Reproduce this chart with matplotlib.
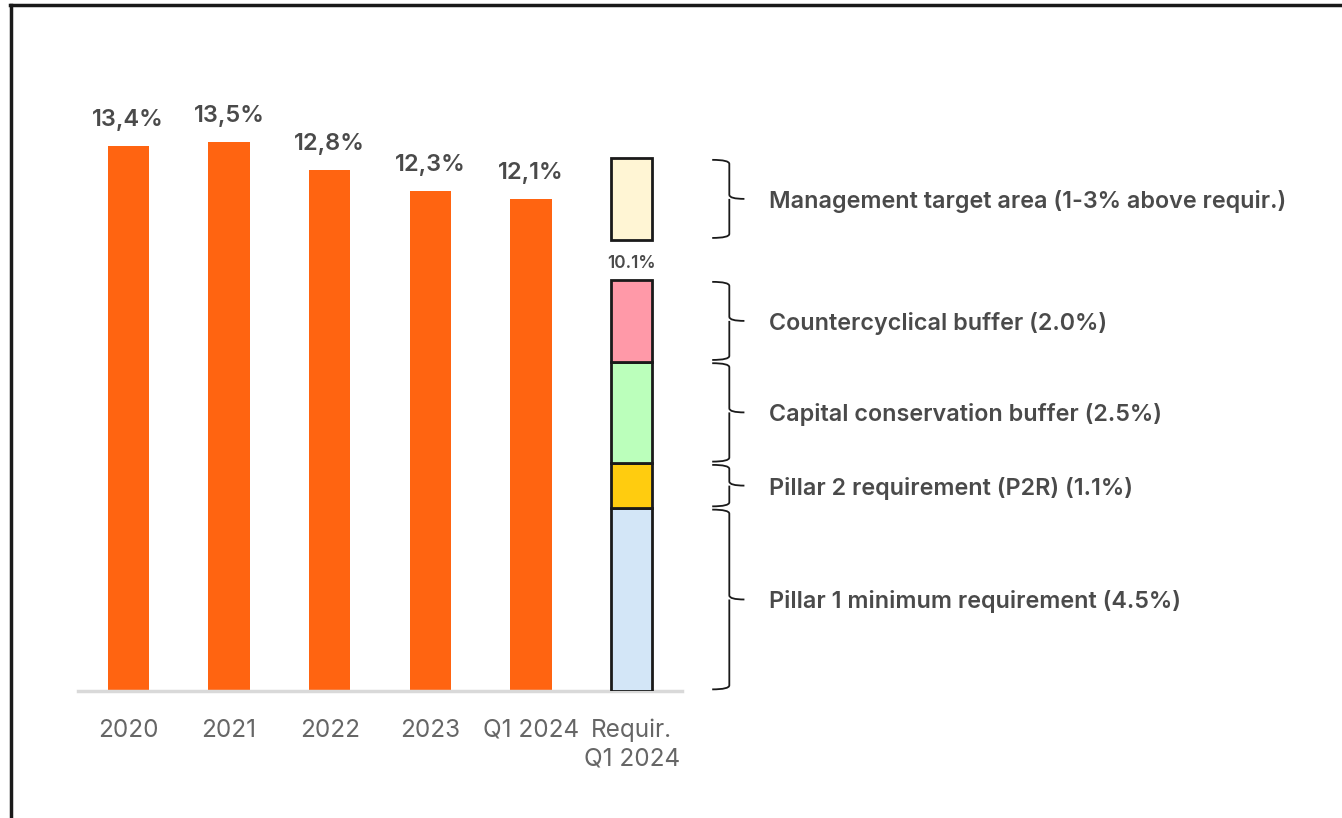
import matplotlib
matplotlib.use("Agg")
import matplotlib.pyplot as plt
from matplotlib.path import Path
from matplotlib.patches import PathPatch, Rectangle
import numpy as np

plt.rcParams["font.family"] = ["Inter", "DejaVu Sans"]

# CET1 ratio history
categories = ["2020", "2021", "2022", "2023", "Q1 2024", "Requir.\nQ1 2024"]
cet1_values = [13.4, 13.5, 12.8, 12.3, 12.1]
cet1_labels = ["13,4%", "13,5%", "12,8%", "12,3%", "12,1%"]

# Requirement stack (bottom to top)
req_names = [
    "Pillar 1 minimum requirement (4.5%)",
    "Pillar 2 requirement (P2R) (1.1%)",
    "Capital conservation buffer (2.5%)",
    "Countercyclical buffer (2.0%)",
]
req_values = [4.5, 1.1, 2.5, 2.0]
req_colors = ["#d3e6f7", "#ffcc0f", "#bbffbb", "#ff99a8"]
req_total_label = "10.1%"

# Management target band above the requirement
target_name = "Management target area (1-3% above requir.)"
target_range = [1.0, 3.0]
target_color = "#fff5d4"

ORANGE = "#ff6411"
TEXT_DARK = "#4a4a4a"
TEXT_GRAY = "#666666"

fig = plt.figure(figsize=(13.42, 8.18), dpi=100)
W, H = 1342, 818
ax = fig.add_axes([78 / W, 127 / H, (682 - 78) / W, 14.5 * 40.67 / H])

x = np.arange(len(categories))
bar_w = 0.41

ax.bar(x[:len(cet1_values)], cet1_values, width=bar_w, color=ORANGE, zorder=2)
for xi, v, lab in zip(x, cet1_values, cet1_labels):
    ax.text(xi, v + 0.37, lab, ha="center", va="bottom", fontsize=17,
            fontweight="semibold", color=TEXT_DARK)

# stacked requirement column
rx = x[-1]
bottom = 0.0
segments = []
for v, c in zip(req_values, req_colors):
    ax.add_patch(Rectangle((rx - bar_w / 2, bottom), bar_w, v, facecolor=c,
                           edgecolor="#1a1a1a", linewidth=2, zorder=3))
    segments.append((bottom, bottom + v))
    bottom += v
req_total = bottom
ax.text(rx, req_total + 0.2, req_total_label, ha="center", va="bottom",
        fontsize=12.4, fontweight="semibold", color=TEXT_DARK)

t0, t1 = req_total + target_range[0], req_total + target_range[1]
ax.add_patch(Rectangle((rx - bar_w / 2, t0), bar_w, t1 - t0, facecolor=target_color,
                       edgecolor="#1a1a1a", linewidth=2, zorder=3))


def brace(ax, y0, y1, x_hook=5.80, x_spine=5.97, x_tip=6.12, r=0.1):
    ym = (y0 + y1) / 2
    verts = [
        (x_hook, y1), (x_spine, y1), (x_spine, y1 - r),
        (x_spine, ym + r),
        (x_spine, ym), (x_tip, ym),
        (x_spine, ym), (x_spine, ym - r),
        (x_spine, y0 + r),
        (x_spine, y0), (x_hook, y0),
    ]
    codes = [
        Path.MOVETO, Path.CURVE3, Path.CURVE3,
        Path.LINETO,
        Path.CURVE3, Path.CURVE3,
        Path.MOVETO, Path.LINETO,
        Path.LINETO,
        Path.CURVE3, Path.CURVE3,
    ]
    ax.add_patch(PathPatch(Path(verts, codes), fill=False, edgecolor="#1a1a1a",
                           linewidth=1.3, clip_on=False))
    return ym


gap = 0.04
brace_items = [(target_name, t0 + gap, t1 - gap)]
for name, (s0, s1) in zip(req_names, segments):
    brace_items.append((name, s0 + gap, s1 - gap))

for name, y0, y1 in brace_items:
    ym = brace(ax, y0, y1)
    ax.text(6.36, ym, name, ha="left", va="center_baseline", fontsize=16.8,
            fontweight="semibold", color=TEXT_DARK, clip_on=False)

ax.set_xlim(-0.5, 5.5)
ax.set_ylim(0, 14.5)
ax.set_xticks(x)
ax.set_xticklabels(categories, fontsize=17.5, color=TEXT_GRAY, linespacing=1.3)
ax.tick_params(axis="x", length=0, pad=20)
ax.set_yticks([])
for s in ["top", "right", "left"]:
    ax.spines[s].set_visible(False)
ax.spines["bottom"].set_color("#d9d9d9")
ax.spines["bottom"].set_linewidth(2.5)

# frame lines along the top and left of the figure
fig.add_artist(plt.Line2D([10 / W, 1.0], [1 - 5 / H, 1 - 5 / H], color="#1a1a1a",
                          linewidth=2.5, transform=fig.transFigure))
fig.add_artist(plt.Line2D([11 / W, 11 / W], [0, 1 - 5 / H], color="#1a1a1a",
                          linewidth=2.5, transform=fig.transFigure))

fig.savefig("out.png", dpi=100, facecolor="white")
